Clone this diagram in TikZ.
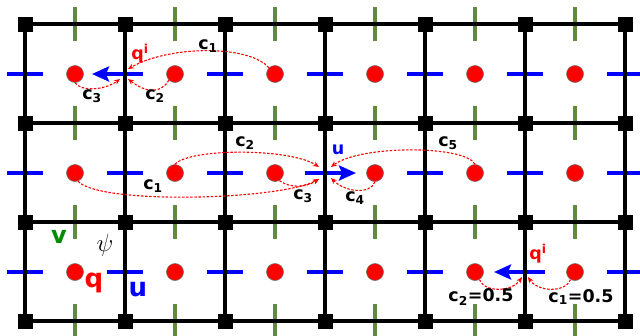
\documentclass[tikz,border=0pt]{standalone}
\usepackage{fontspec}
\setmainfont{DejaVu Sans}
\usetikzlibrary{arrows.meta}
\definecolor{vgreen}{RGB}{95,140,60}
\definecolor{vtext}{RGB}{0,140,0}
\definecolor{ublue}{RGB}{0,0,255}
\begin{document}
\begin{tikzpicture}[x=1pt,y=-1pt,
  grid line/.style={line width=3.2pt, black},
  vtick/.style={line width=3.4pt, vgreen},
  udash/.style={line width=4.8pt, ublue},
  corner/.style={fill=black, minimum size=15pt, inner sep=0pt},
  qdot/.style={circle, fill=red, draw=black!55, line width=0.6pt, minimum size=17pt, inner sep=0pt},
  uarrow/.style={line width=4.8pt, ublue, -{Stealth[length=17pt,width=15pt,inset=3pt]}},
  flux/.style={red, line width=1.1pt, dash pattern=on 2.5pt off 1.6pt, -{Stealth[length=6pt,width=5pt]}},
  clab/.style={font=\fontsize{17.5}{17.5}\selectfont\bfseries, inner sep=0pt},
  biglab/.style={font=\fontsize{26}{26}\selectfont\bfseries, inner sep=0pt}]
\useasboundingbox (0,0) rectangle (640,335);
\clip (0,0) rectangle (640,335);
% v points (green ticks)
\foreach \i in {0,...,5} \foreach \j in {0,...,3}
  \draw[vtick] ({75+100*\i},{24+99*\j-17}) -- ++(0,34);
% u points (blue dashes)
\foreach \i in {0,...,6} \foreach \j in {0,1,2}
  \draw[udash] ({25+100*\i-18},{74+99*\j}) -- ++(36,0);
% blue velocity arrows
\coordinate (a1s) at (143,74); \coordinate (a1e) at (92,74);
\coordinate (a2s) at (305,173); \coordinate (a2e) at (356,173);
\coordinate (a3s) at (545,272); \coordinate (a3e) at (494,272);
\draw[uarrow] (a1s) -- (a1e);
\draw[uarrow] (a2s) -- (a2e);
\draw[uarrow] (a3s) -- (a3e);
% grid lines
\foreach \i in {0,...,6}
  \draw[grid line] ({25+100*\i},24) -- ({25+100*\i},321);
\foreach \j in {0,...,3}
  \draw[grid line] (25,{24+99*\j}) -- (625,{24+99*\j});
% psi points (black squares)
\foreach \i in {0,...,6} \foreach \j in {0,...,3}
  \node[corner] (s-\i-\j) at ({25+100*\i},{24+99*\j}) {};
% q points (red circles)
\foreach \i in {1,...,6} \foreach \j in {1,2,3}
  \node[qdot] (q-\i-\j) at ({100*\i-25},{74+99*(\j-1)}) {};
% flux targets
\coordinate (t1a) at (128,69); \coordinate (t1b) at (128,79); \coordinate (t1c) at (120,79);
\coordinate (t2a) at (319,167); \coordinate (t2b) at (319,179);
\coordinate (t2c) at (331,167); \coordinate (t2d) at (331,178);
\coordinate (t3a) at (522,277); \coordinate (t3b) at (528,277);
% row 1
\draw[flux] (q-3-1.135) .. controls (250,45) and (170,45) .. (t1a);
\draw[flux] (q-2-1.225) .. controls (160,95) and (145,92) .. (t1b);
\draw[flux] (q-1-1.south) .. controls (82,92) and (105,90) .. (t1c);
% row 2
\draw[flux] (q-2-2.north) .. controls (190,148) and (290,148) .. (t2a);
\draw[flux] (q-1-2.-70) .. controls (100,205) and (280,200) .. (t2b);
\draw[flux] (q-3-2.-60) .. controls (290,188) and (305,188) .. (t2b);
\draw[flux] (q-4-2.south) .. controls (370,195) and (345,192) .. (t2d);
\draw[flux] (q-5-2.north) .. controls (465,145) and (360,145) .. (t2c);
% row 3
\draw[flux] (q-5-3.-60) .. controls (485,293) and (512,292) .. (t3a);
\draw[flux] (q-6-3.-120) .. controls (565,293) and (538,292) .. (t3b);
% labels
\node[clab, red] (qi1) at (140,54) {q\textsuperscript{i}};
\node[clab] (l11) at (208,46) {c\textsubscript{1}};
\node[clab] (l12) at (155,96) {c\textsubscript{2}};
\node[clab] (l13) at (92,96) {c\textsubscript{3}};
\node[clab, ublue] (ul2) at (338,150) {u};
\node[clab] (l21) at (153,186) {c\textsubscript{1}};
\node[clab] (l22) at (245,143) {c\textsubscript{2}};
\node[clab] (l23) at (303,196) {c\textsubscript{3}};
\node[clab] (l24) at (355,198) {c\textsubscript{4}};
\node[clab] (l25) at (448,143) {c\textsubscript{5}};
\node[clab, red] (qi3) at (538,254) {q\textsuperscript{i}};
\node[clab] (l32) at (481,297) {c\textsubscript{2}=0.5};
\node[clab] (l31) at (581,297) {c\textsubscript{1}=0.5};
\node[biglab, vtext, font=\fontsize{24}{24}\selectfont\bfseries] (vl) at (59,237) {v};
\node[inner sep=0pt, font=\fontsize{27}{27}\selectfont] (psil) at (105,245) {$\psi$};
\node[biglab, red] (ql) at (94,283) {q};
\node[biglab, ublue] (ulb) at (138,290) {u};
\end{tikzpicture}
\end{document}
